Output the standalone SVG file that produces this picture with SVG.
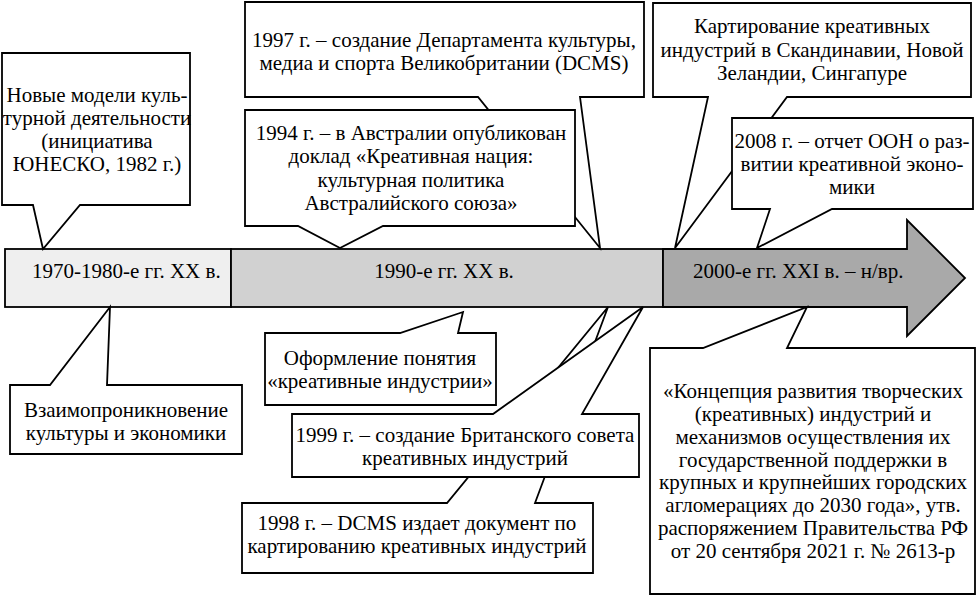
<svg xmlns="http://www.w3.org/2000/svg" width="977" height="595" viewBox="0 0 977 595">
<style>
.c{fill:#fff;stroke:#000;stroke-width:1.8;stroke-linejoin:miter}
.b{stroke:#000;stroke-width:1.8}
text{font-family:"Liberation Serif","Times New Roman",serif;font-size:21px;fill:#000}
.m{text-anchor:middle}
</style>
<rect width="977" height="595" fill="#fff"/>
<g id="timeline">
<rect class="b" x="5" y="249" width="226" height="58" fill="#efefef"/>
<rect class="b" x="231" y="249" width="432" height="58" fill="#d1d1d1"/>
<path class="b" d="M663,249 H907 V220 L965,278 L907,336 V307 H663 Z" fill="#a9a9a9"/>
<text x="32" y="278">1970-1980-е гг. ХХ в.</text>
<text class="m" x="444" y="278">1990-е гг. ХХ в.</text>
<text x="693" y="278">2000-е гг. XXI в. – н/вр.</text>
</g>
<g id="n-unesco">
<path class="c" d="M2,53 H190 V205 H80 L43,249 L33,205 H2 Z"/>
<text class="m" x="97" y="102">Новые модели куль-</text>
<text class="m" x="97" y="125">турной деятельности</text>
<text class="m" x="97" y="148">(инициатива</text>
<text class="m" x="97" y="171">ЮНЕСКО, 1982 г.)</text>
</g>
<g id="n-1997">
<path class="c" d="M245,2 H644 V97 H580 L600,248 L478,97 H245 Z"/>
<text class="m" x="444" y="47">1997 г. – создание Департамента культуры,</text>
<text class="m" x="444" y="70">медиа и спорта Великобритании (DCMS)</text>
</g>
<g id="n-1994">
<path class="c" d="M245,110 H575 V226 H383 L340,248 L298,226 H245 Z"/>
<text class="m" x="411" y="140">1994 г. – в Австралии опубликован</text>
<text class="m" x="411" y="163">доклад «Креативная нация:</text>
<text class="m" x="411" y="187">культурная политика</text>
<text class="m" x="411" y="210">Австралийского союза»</text>
</g>
<g id="n-mapping">
<path class="c" d="M653,3 H971 V97 H787 L675,248 L708,97 H653 Z"/>
<text class="m" x="812" y="33">Картирование креативных</text>
<text class="m" x="812" y="57">индустрий в Скандинавии, Новой</text>
<text class="m" x="812" y="80">Зеландии, Сингапуре</text>
</g>
<g id="n-2008">
<path class="c" d="M732,118 H973 V209 H832 L757,248 L770,209 H732 Z"/>
<text class="m" x="852" y="148">2008 г. – отчет ООН о раз-</text>
<text class="m" x="852" y="171">витии креативной эконо-</text>
<text class="m" x="852" y="194">мики</text>
</g>
<g id="n-interpenetration">
<path class="c" d="M10,385 H50 L110,307 L107,385 H242 V454 H10 Z"/>
<text class="m" x="126" y="417">Взаимопроникновение</text>
<text class="m" x="126" y="440">культуры и экономики</text>
</g>
<g id="n-concept">
<path class="c" d="M265,333 H400 L463,312 L458,333 H496 V405 H265 Z"/>
<text class="m" x="380" y="365">Оформление понятия</text>
<text class="m" x="380" y="388">«креативные индустрии»</text>
</g>
<g id="n-1998">
<path class="c" d="M242,503 H447 L608,307 L535,503 H593 V573 H242 Z"/>
<text class="m" x="417" y="530">1998 г. – DCMS издает документ по</text>
<text class="m" x="417" y="553">картированию креативных индустрий</text>
</g>
<g id="n-1999">
<path class="c" d="M292,414 H493 L643,307 L582,414 H639 V477 H292 Z"/>
<text class="m" x="465" y="442">1999 г. – создание Британского совета</text>
<text class="m" x="465" y="465">креативных индустрий</text>
</g>
<g id="n-2021">
<path class="c" d="M650,348 H703 L807,307 L787,348 H975 V594 H650 Z"/>
<text class="m" x="813" y="398">«Концепция развития творческих</text>
<text class="m" x="813" y="421">(креативных) индустрий и</text>
<text class="m" x="813" y="444">механизмов осуществления их</text>
<text class="m" x="813" y="467">государственной поддержки в</text>
<text class="m" x="813" y="489">крупных и крупнейших городских</text>
<text class="m" x="813" y="512">агломерациях до 2030 года», утв.</text>
<text class="m" x="813" y="535">распоряжением Правительства РФ</text>
<text class="m" x="813" y="558">от 20 сентября 2021 г. № 2613-р</text>
</g>
</svg>
